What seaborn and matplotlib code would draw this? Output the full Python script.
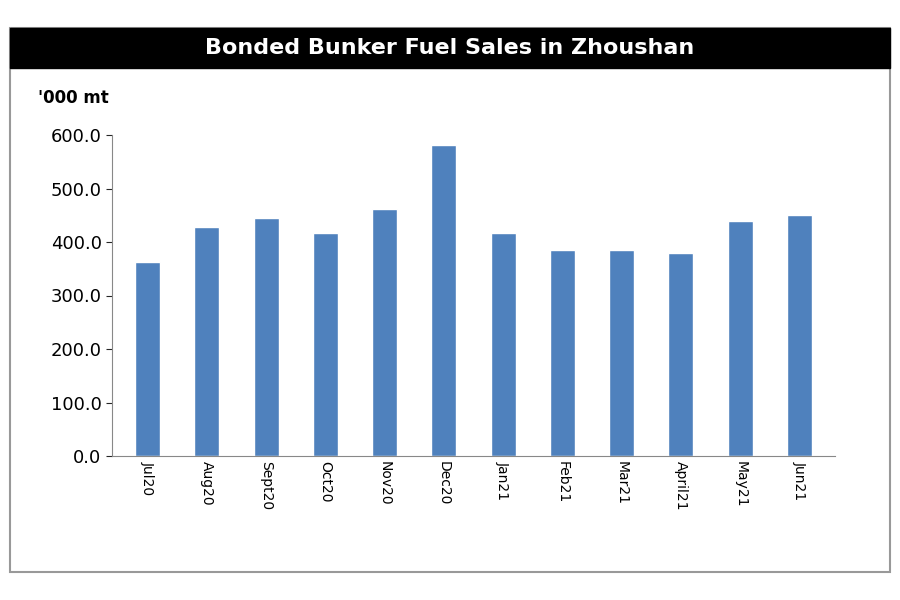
import matplotlib
matplotlib.use("Agg")
import matplotlib.pyplot as plt
import seaborn as sns
import pandas as pd
from matplotlib.patches import Rectangle

months = ["Jul20","Aug20","Sept20","Oct20","Nov20","Dec20","Jan21","Feb21","Mar21","April21","May21","Jun21"]
sales = [363, 428, 445, 417, 462, 581, 417, 385, 385, 379, 439, 450]
yticks = [0, 100, 200, 300, 400, 500, 600]

sns.set_style("white")
plt.rcParams['font.family'] = ['DejaVu Sans']
fig = plt.figure(figsize=(9, 6), dpi=100)
ax = fig.add_axes([112/900, 1-456/600, (835-112)/900, (456-135)/600])
df = pd.DataFrame({"m": months, "v": sales})
sns.barplot(data=df, x="m", y="v", color="#4F81BD", width=0.42, ax=ax, saturation=1)
ax.set_ylim(0, 600)
ax.set_yticks(yticks)
ax.set_yticklabels([f"{v:.1f}" for v in yticks], fontsize=13, color="black")
ax.set_xlabel(""); ax.set_ylabel("")
ax.tick_params(axis='x', labelrotation=270, labelsize=10, length=0, labelcolor="black")
ax.tick_params(axis='y', length=4, left=True)
for s in ["top", "right"]:
    ax.spines[s].set_visible(False)
ax.spines["left"].set_color("#888888")
ax.spines["bottom"].set_color("#888888")
ax.set_xlim(-0.6, 11.6)

fig.patches.append(Rectangle((10/900, 1-572/600), 880/900, 544/600, transform=fig.transFigure,
                             fill=False, edgecolor="#999999", lw=1.5))
fig.patches.append(Rectangle((10/900, 1-68/600), 880/900, 40/600, transform=fig.transFigure,
                             facecolor="black", edgecolor="black"))
fig.text(0.5, 1-48/600, "Bonded Bunker Fuel Sales in Zhoushan", color="white",
         fontsize=16, fontweight="bold", ha="center", va="center")
fig.text(38/900, 1-98/600, "'000 mt", fontsize=12, fontweight="bold", ha="left", va="center", color="black")
fig.savefig("out.png", dpi=100)
